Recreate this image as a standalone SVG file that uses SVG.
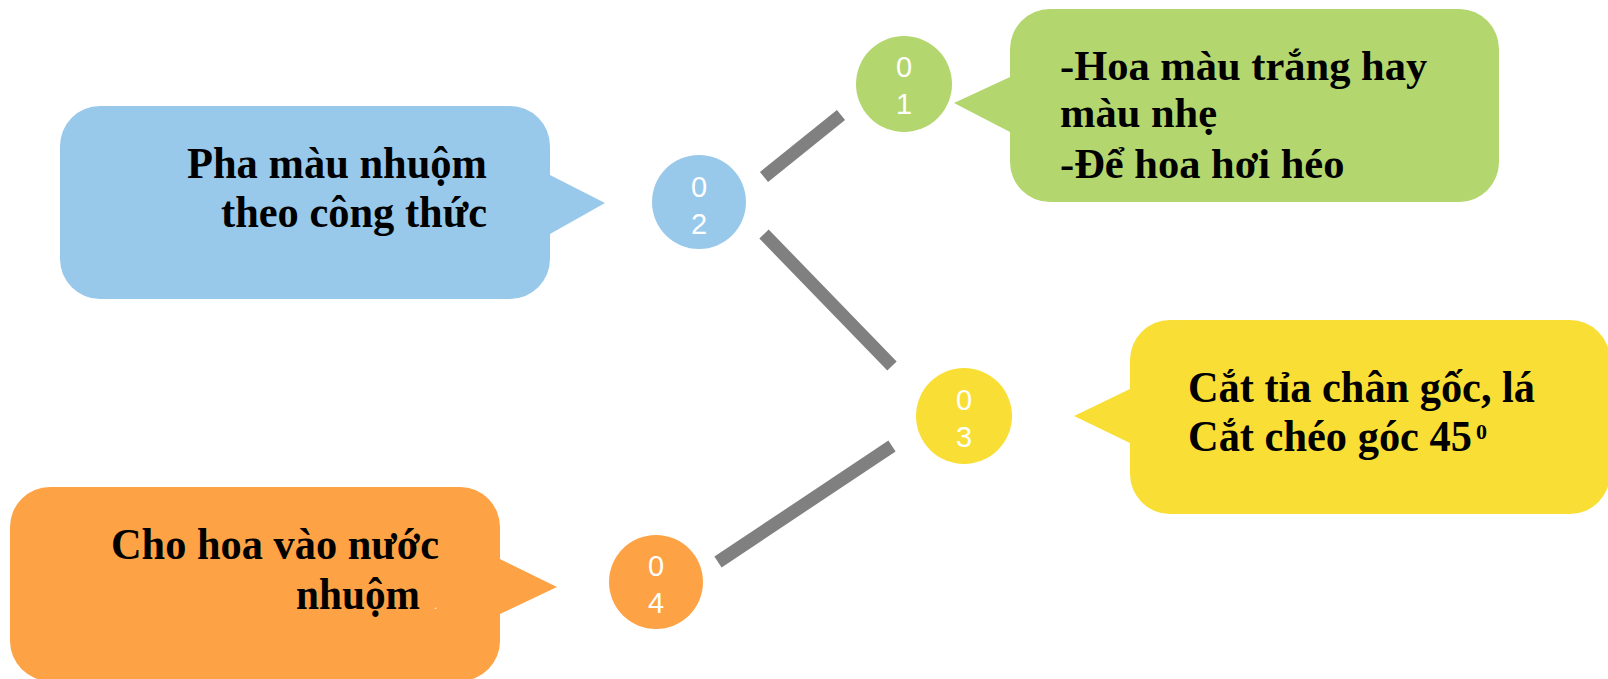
<svg xmlns="http://www.w3.org/2000/svg" width="1608" height="679" viewBox="0 0 1608 679">
<style>
.t{font-family:"Liberation Serif","Times New Roman",serif;font-weight:bold;font-size:44px;fill:#000}
.g{font-size:42.5px}
.s{font-size:22px}
.n{font-family:"Liberation Sans",Arial,sans-serif;font-size:29px;fill:#fff;text-anchor:middle}
.c{stroke:#808080;stroke-width:13;fill:none}
</style>
<rect width="1608" height="679" fill="#fff"/>
<g id="connectors">
<line class="c" x1="764" y1="177" x2="841" y2="115"/>
<line class="c" x1="764" y1="234" x2="892" y2="366"/>
<line class="c" x1="892" y1="446" x2="718" y2="562"/>
</g>
<g id="box-blue">
<path d="M100,106 H510 A40,40 0 0 1 550,146 V175 L605,203 L550,234 V259 A40,40 0 0 1 510,299 H100 A40,40 0 0 1 60,259 V146 A40,40 0 0 1 100,106 Z" fill="#98C9EA"/>
<text class="t" x="487" y="178" text-anchor="end" textLength="300" lengthAdjust="spacingAndGlyphs">Pha màu nhuộm</text>
<text class="t" x="487" y="227" text-anchor="end" textLength="266" lengthAdjust="spacingAndGlyphs">theo công thức</text>
</g>
<g id="node-02">
<circle cx="699" cy="202" r="47" fill="#98C9EA"/>
<text class="n" x="699" y="197">0</text>
<text class="n" x="699" y="234">2</text>
</g>
<g id="node-01">
<circle cx="904" cy="84" r="48" fill="#B3D66F"/>
<text class="n" x="904" y="77">0</text>
<text class="n" x="904" y="114">1</text>
</g>
<g id="box-green">
<path d="M1050,9 H1460 A40,40 0 0 1 1499,49 V162 A40,40 0 0 1 1460,202 H1050 A40,40 0 0 1 1010,162 V132 L954,103 L1010,77 V49 A40,40 0 0 1 1050,9 Z" fill="#B3D66F"/>
<text class="t g" x="1060" y="80">-Hoa màu trắng hay</text>
<text class="t g" x="1060" y="127">màu nhẹ</text>
<text class="t g" x="1060" y="178">-Để hoa hơi héo</text>
</g>
<g id="node-03">
<circle cx="964" cy="416" r="48" fill="#F9DF35"/>
<text class="n" x="964" y="410">0</text>
<text class="n" x="964" y="447">3</text>
</g>
<g id="box-yellow">
<path d="M1170,320 H1570 A40,40 0 0 1 1610,360 V474 A40,40 0 0 1 1570,514 H1170 A40,40 0 0 1 1130,474 V443 L1074,416 L1130,389 V360 A40,40 0 0 1 1170,320 Z" fill="#F9DF35"/>
<text class="t" x="1188" y="402" textLength="347" lengthAdjust="spacingAndGlyphs">Cắt tỉa chân gốc, lá</text>
<text class="t" x="1188" y="451"><tspan textLength="284" lengthAdjust="spacingAndGlyphs">Cắt chéo góc 45</tspan><tspan class="s" dx="4" dy="-12">0</tspan></text>
</g>
<g id="node-04">
<circle cx="656" cy="582" r="47" fill="#FEA246"/>
<text class="n" x="656" y="576">0</text>
<text class="n" x="656" y="613">4</text>
</g>
<g id="box-orange">
<path d="M50,487 H460 A40,40 0 0 1 500,527 V559 L557,587 L500,614 V641 A40,40 0 0 1 460,681 H50 A40,40 0 0 1 10,641 V527 A40,40 0 0 1 50,487 Z" fill="#FEA246"/>
<text class="t" x="439" y="559" text-anchor="end" textLength="328" lengthAdjust="spacingAndGlyphs">Cho hoa vào nước</text>
<text class="t" x="420" y="609" text-anchor="end" textLength="124" lengthAdjust="spacingAndGlyphs">nhuộm</text>
<text x="434" y="609" font-family="Liberation Sans,sans-serif" font-size="12" fill="#f4f4f4">.</text>
</g>
</svg>
